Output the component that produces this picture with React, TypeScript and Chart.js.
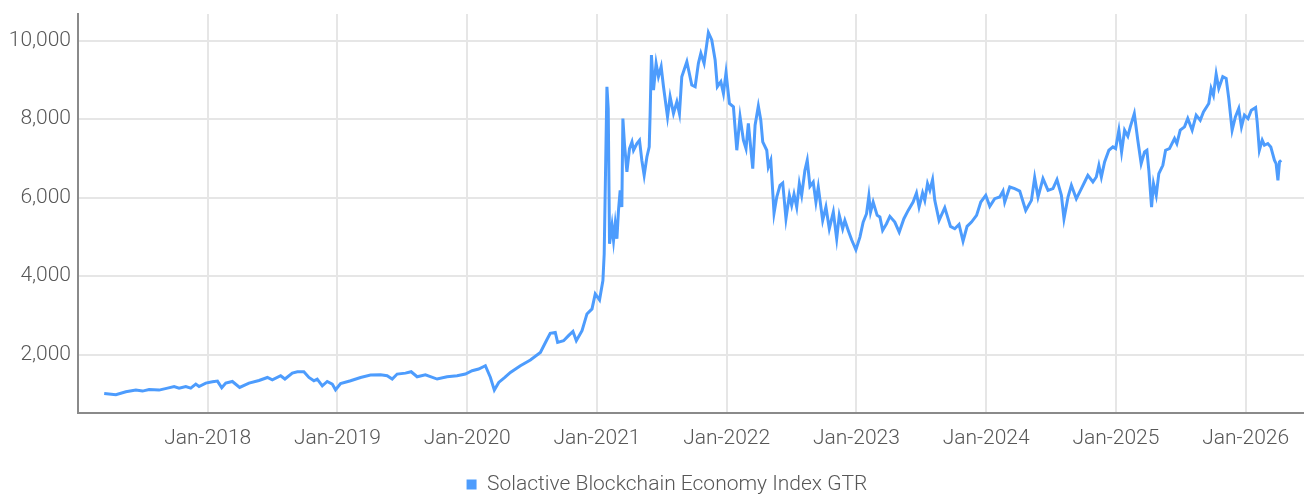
import React, { useEffect, useRef } from "react";
import { Chart, registerables } from "chart.js";

Chart.register(...registerables);

const seriesName = "Solactive Blockchain Economy Index GTR";
const yearTicks = [2018, 2019, 2020, 2021, 2022, 2023, 2024, 2025, 2026];
const valueTicks = [2000, 4000, 6000, 8000, 10000];

// dates as decimal years, values as index levels
const dates2017to2019 = [2017.202, 2017.292, 2017.369, 2017.446, 2017.497, 2017.548, 2017.625, 2017.690, 2017.741, 2017.779, 2017.831, 2017.869, 2017.908, 2017.933, 2017.985, 2018.036, 2018.075, 2018.108, 2018.139, 2018.190, 2018.246, 2018.318, 2018.395, 2018.460, 2018.498, 2018.562, 2018.595, 2018.652, 2018.691, 2018.741, 2018.780, 2018.818, 2018.844, 2018.883, 2018.921, 2018.960, 2018.985, 2019.024, 2019.101, 2019.178, 2019.255, 2019.332, 2019.383, 2019.422, 2019.460, 2019.524, 2019.568, 2019.614, 2019.678, 2019.768, 2019.845, 2019.922, 2019.986];
const values2017to2019 = [1012, 979, 1055, 1098, 1073, 1114, 1098, 1149, 1190, 1149, 1190, 1149, 1251, 1190, 1276, 1310, 1327, 1157, 1276, 1318, 1165, 1276, 1344, 1420, 1361, 1464, 1380, 1531, 1566, 1566, 1420, 1336, 1380, 1208, 1318, 1251, 1106, 1267, 1336, 1420, 1481, 1489, 1464, 1380, 1507, 1531, 1566, 1438, 1489, 1380, 1438, 1464, 1507];

const dates2020 = [2020.038, 2020.088, 2020.140, 2020.179, 2020.209, 2020.243, 2020.290, 2020.333, 2020.410, 2020.487, 2020.564, 2020.610, 2020.640, 2020.679, 2020.697, 2020.743, 2020.781, 2020.815, 2020.841, 2020.885, 2020.923, 2020.962, 2020.987];
const values2020 = [1591, 1635, 1719, 1420, 1098, 1293, 1420, 1548, 1719, 1864, 2059, 2357, 2544, 2569, 2314, 2357, 2485, 2595, 2357, 2613, 3039, 3167, 3550];

const dates2021 = [2021.020, 2021.046, 2021.056, 2021.077, 2021.087, 2021.097, 2021.116, 2021.128, 2021.141, 2021.154, 2021.166, 2021.179, 2021.192, 2021.200, 2021.212, 2021.231, 2021.251, 2021.270, 2021.282, 2021.308, 2021.328, 2021.346, 2021.364, 2021.385, 2021.403, 2021.410, 2021.420, 2021.436, 2021.456, 2021.474, 2021.495, 2021.513, 2021.544, 2021.564, 2021.590, 2021.616, 2021.636, 2021.654, 2021.693, 2021.731, 2021.757, 2021.782, 2021.801, 2021.826, 2021.859, 2021.885, 2021.911, 2021.928, 2021.955, 2021.975, 2021.995];
const values2021 = [3397, 3890, 4571, 8826, 8272, 4827, 5294, 4911, 5338, 4954, 5677, 6188, 5762, 8017, 7380, 6657, 7252, 7422, 7209, 7380, 7465, 6954, 6571, 7039, 7294, 8145, 9635, 8741, 9423, 9082, 9337, 8826, 8060, 8571, 8145, 8443, 8145, 9082, 9465, 8869, 8826, 9423, 9678, 9423, 10205, 10018, 9508, 8826, 8954, 8656, 9184];

const dates2022 = [2022.021, 2022.052, 2022.078, 2022.103, 2022.129, 2022.149, 2022.167, 2022.201, 2022.219, 2022.244, 2022.263, 2022.278, 2022.309, 2022.321, 2022.340, 2022.365, 2022.386, 2022.411, 2022.432, 2022.457, 2022.483, 2022.501, 2022.519, 2022.540, 2022.560, 2022.578, 2022.603, 2022.621, 2022.642, 2022.667, 2022.688, 2022.706, 2022.740, 2022.765, 2022.791, 2022.822, 2022.848, 2022.868, 2022.894, 2022.911, 2022.937, 2022.963, 2022.996];
const values2022 = [8400, 8315, 7209, 8060, 7465, 7252, 7890, 6742, 7847, 8333, 7975, 7422, 7209, 6784, 6954, 5608, 6017, 6316, 6376, 5465, 6060, 5805, 6086, 5762, 6359, 6060, 6699, 6954, 6290, 6400, 5889, 6273, 5422, 5762, 5210, 5634, 4954, 5550, 5210, 5422, 5167, 4929, 4674];

const dates2023to2024 = [2023.027, 2023.052, 2023.078, 2023.096, 2023.109, 2023.129, 2023.160, 2023.181, 2023.202, 2023.232, 2023.258, 2023.296, 2023.330, 2023.366, 2023.399, 2023.437, 2023.463, 2023.483, 2023.510, 2023.527, 2023.548, 2023.566, 2023.587, 2023.604, 2023.637, 2023.681, 2023.725, 2023.758, 2023.791, 2023.822, 2023.853, 2023.887, 2023.926, 2023.959, 2023.997, 2024.028, 2024.066, 2024.105, 2024.130, 2024.143, 2024.182, 2024.220, 2024.259, 2024.305, 2024.349, 2024.374, 2024.400, 2024.438, 2024.477, 2024.515, 2024.546, 2024.580, 2024.600, 2024.631, 2024.657, 2024.695, 2024.734, 2024.759, 2024.784, 2024.823, 2024.849, 2024.869, 2024.888, 2024.913, 2024.946, 2024.977, 2024.998];
const values2023to2024 = [4996, 5379, 5592, 6043, 5634, 5889, 5550, 5507, 5167, 5338, 5524, 5379, 5124, 5465, 5677, 5889, 6119, 5762, 6119, 5932, 6359, 6188, 6460, 5932, 5422, 5746, 5269, 5210, 5320, 4894, 5269, 5379, 5550, 5889, 6060, 5779, 5975, 6017, 6170, 5889, 6273, 6231, 6170, 5677, 5932, 6511, 6017, 6485, 6188, 6231, 6460, 6060, 5465, 6017, 6316, 5975, 6231, 6400, 6571, 6400, 6528, 6826, 6528, 6911, 7209, 7294, 7252];

const dates2025to2026 = [2025.023, 2025.044, 2025.067, 2025.092, 2025.111, 2025.142, 2025.169, 2025.195, 2025.221, 2025.239, 2025.254, 2025.275, 2025.290, 2025.311, 2025.331, 2025.362, 2025.383, 2025.413, 2025.452, 2025.470, 2025.496, 2025.529, 2025.554, 2025.588, 2025.619, 2025.650, 2025.675, 2025.716, 2025.734, 2025.752, 2025.773, 2025.793, 2025.824, 2025.850, 2025.870, 2025.896, 2025.921, 2025.947, 2025.968, 2025.991, 2026.018, 2026.044, 2026.077, 2026.089, 2026.106, 2026.128, 2026.145, 2026.171, 2026.194, 2026.222, 2026.235, 2026.249, 2026.261, 2026.274];
const values2025to2026 = [7720, 7167, 7720, 7567, 7805, 8145, 7465, 6869, 7167, 7209, 6699, 5762, 6359, 6060, 6613, 6826, 7209, 7252, 7507, 7380, 7720, 7805, 8017, 7720, 8103, 7975, 8187, 8400, 8784, 8613, 9150, 8784, 9082, 9039, 8529, 7720, 8060, 8273, 7805, 8103, 8017, 8230, 8299, 7932, 7209, 7465, 7337, 7380, 7294, 6954, 6869, 6443, 6911, 6954];

const lineColor = "#4d9cfd";
const textColor = "#575757";
const gridColor = "#e6e6e6";
const axisColor = "#8a8a8a";
const font = { family: "Roboto", size: 21, weight: 300 as const };

// nudges the centred legend a little to the right, as in the reference
const legendShift = {
  id: "legendShift",
  afterLayout(chart: any) {
    const lg = chart.legend;
    if (lg) {
      lg.left += 11;
      lg.right += 11;
    }
  },
};

export default function App() {
  const ref = useRef<HTMLCanvasElement>(null);

  useEffect(() => {
    const dates = [...dates2017to2019, ...dates2020, ...dates2021, ...dates2022, ...dates2023to2024, ...dates2025to2026];
    const values = [...values2017to2019, ...values2020, ...values2021, ...values2022, ...values2023to2024, ...values2025to2026];
    const points = dates.map((d, i) => ({ x: d, y: values[i] }));

    const chart = new Chart(ref.current as HTMLCanvasElement, {
      type: "line",
      data: {
        datasets: [
          {
            label: seriesName,
            data: points,
            borderColor: lineColor,
            backgroundColor: lineColor,
            borderWidth: 3,
            pointRadius: 0,
            tension: 0,
            fill: false,
          },
        ],
      },
      plugins: [legendShift],
      options: {
        animation: false,
        responsive: true,
        maintainAspectRatio: false,
        layout: { padding: { left: 8, right: 0, top: 14, bottom: -7 } },
        plugins: {
          tooltip: { enabled: false },
          legend: {
            position: "bottom",
            labels: {
              boxWidth: 10,
              boxHeight: 10,
              padding: 10,
              color: textColor,
              font,
              generateLabels: () => [
                {
                  text: seriesName,
                  fillStyle: lineColor,
                  strokeStyle: lineColor,
                  lineWidth: 0,
                  hidden: false,
                  datasetIndex: 0,
                  fontColor: textColor,
                },
              ],
            },
          },
        },
        scales: {
          x: {
            type: "linear",
            min: 2017,
            max: 2026.45,
            afterBuildTicks: (s: any) => {
              s.ticks = yearTicks.map((v) => ({ value: v }));
            },
            afterFit: (s: any) => {
              s.paddingLeft = 0;
              s.paddingRight = 0;
            },
            ticks: {
              color: textColor,
              font,
              padding: 13,
              maxRotation: 0,
              autoSkip: false,
              callback: (v: any) => "Jan-" + v,
            },
            grid: { color: gridColor, lineWidth: 2, drawTicks: false },
            border: { color: axisColor, width: 2 },
          },
          y: {
            type: "linear",
            min: 520,
            max: 10680,
            afterBuildTicks: (s: any) => {
              s.ticks = valueTicks.map((v) => ({ value: v }));
            },
            afterFit: (s: any) => {
              s.width = 70;
              s.paddingTop = 0;
              s.paddingBottom = 0;
            },
            ticks: {
              color: textColor,
              font,
              padding: 7,
              callback: (v: any) => Number(v).toLocaleString("en-US"),
            },
            grid: { color: gridColor, lineWidth: 2, drawTicks: false },
            border: { color: axisColor, width: 2 },
          },
        },
      },
    });
    return () => chart.destroy();
  }, []);

  return (
    <div style={{ position: "absolute", left: 0, top: 0, width: 1304, height: 498 }}>
      <canvas ref={ref} />
    </div>
  );
}
